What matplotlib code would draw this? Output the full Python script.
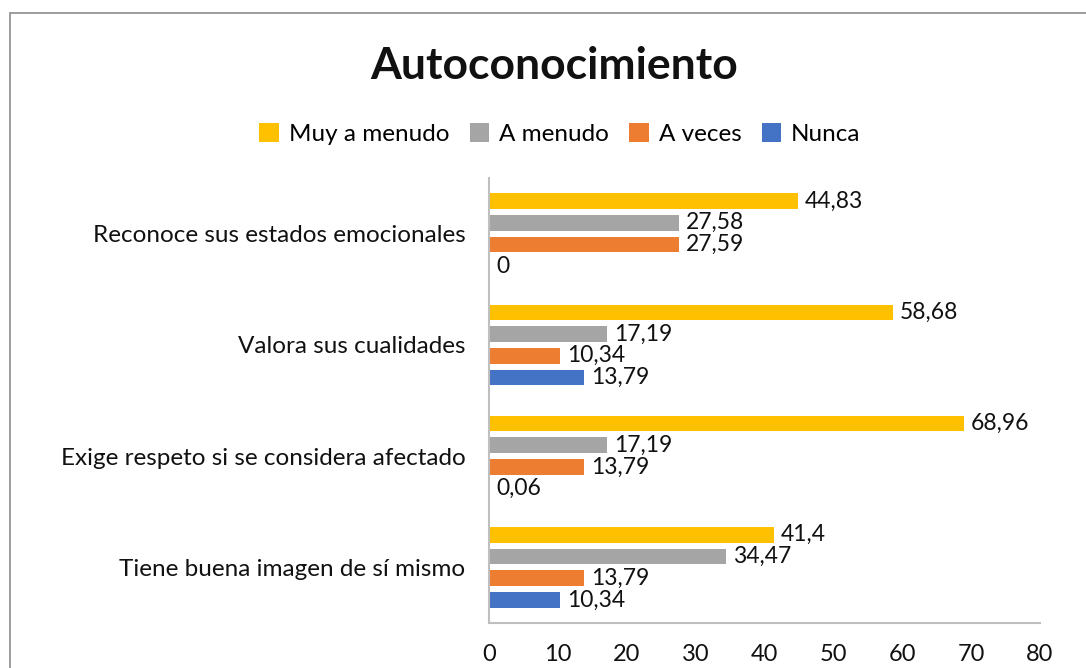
import matplotlib.pyplot as plt
import numpy as np
from matplotlib.patches import Rectangle

plt.rcParams['font.family'] = ['Lato', 'DejaVu Sans']

categorias = ['Reconoce sus estados emocionales', 'Valora sus cualidades',
              'Exige respeto si se considera afectado', 'Tiene buena imagen de sí mismo']
series = ['Muy a menudo', 'A menudo', 'A veces', 'Nunca']
muy_a_menudo = [44.83, 58.68, 68.96, 41.4]
a_menudo = [27.58, 17.19, 17.19, 34.47]
a_veces = [27.59, 10.34, 13.79, 13.79]
nunca = [0, 13.79, 0.06, 10.34]
colores = ['#FFC000', '#A5A5A5', '#ED7D31', '#4472C4']
xticks = [0, 10, 20, 30, 40, 50, 60, 70, 80]

fig = plt.figure(figsize=(10.86, 6.68), dpi=100)
# marco del grafico (solo se ve arriba y a la izquierda)
fig.patches.append(Rectangle((10 / 1086, -0.1), 1.2, 1.1 - 13 / 668, transform=fig.transFigure,
                             fill=False, edgecolor='#8C8C8C', linewidth=1.2))
ax = fig.add_axes([489 / 1086, 1 - 623 / 668, (1040 - 489) / 1086, (623 - 178) / 668])

y = np.arange(len(categorias))
paso = 0.195
alto = 0.14
datos = [muy_a_menudo, a_menudo, a_veces, nunca]
for i, (nombre, vals) in enumerate(zip(series, datos)):
    pos = y - 1.5 * paso + i * paso
    barras = ax.barh(pos, vals, height=alto, color=colores[i], label=nombre)
    etiquetas = [str(v).replace('.', ',') for v in vals]
    ax.bar_label(barras, labels=etiquetas, padding=5, fontsize=16.5, color='#111111')

ax.set_ylim(3.5, -0.5)
ax.set_xlim(0, 80)
ax.set_xticks(xticks)
ax.set_yticks(y)
ax.set_yticklabels(categorias, fontsize=17.5, color='#111111')
ax.tick_params(axis='x', labelsize=17, length=0, pad=15, labelcolor='#111111')
ax.tick_params(axis='y', length=0, pad=17)
for s in ['top', 'right']:
    ax.spines[s].set_visible(False)
ax.spines['left'].set_color('#BFBFBF')
ax.spines['bottom'].set_color('#BFBFBF')
ax.spines['left'].set_linewidth(1.5)
ax.spines['bottom'].set_linewidth(1.5)

fig.text(554 / 1086, 1 - 66 / 668, 'Autoconocimiento', fontsize=32, fontweight='bold',
         ha='center', va='center', color='#111111')
handles, labels = ax.get_legend_handles_labels()
fig.legend(handles, labels, loc='center', bbox_to_anchor=(560 / 1086, 1 - 134 / 668), ncol=4,
           frameon=False, fontsize=17.5, handlelength=0.8, handleheight=0.8,
           handletextpad=0.4, columnspacing=0.85)

fig.savefig('out.png', dpi=100)
